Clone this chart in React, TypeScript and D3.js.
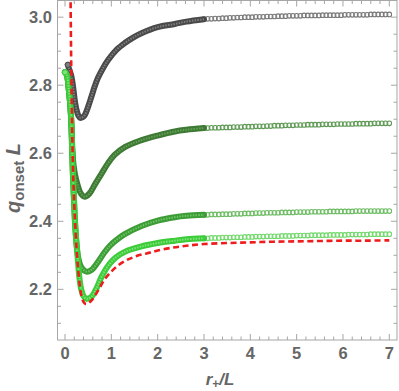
import React from "react";
import * as d3 from "d3";

const W = 399;
const H = 391;

// axis ticks
const xTicks = [0, 1, 2, 3, 4, 5, 6, 7];
const yTicks = [2.2, 2.4, 2.6, 2.8, 3.0];
const yTickLabels = ["2.2", "2.4", "2.6", "2.8", "3.0"];

// dense part (r < 3) of the four marker series
const s1R = [0.06, 0.1, 0.14, 0.18, 0.21, 0.25, 0.29, 0.33, 0.38, 0.43, 0.5, 0.57, 0.64, 0.71, 0.82, 0.93, 1.11, 1.29, 1.47, 1.65, 2.0, 2.37, 2.62, 3.0];
const s1V = [2.86, 2.843, 2.825, 2.79, 2.757, 2.727, 2.71, 2.704, 2.706, 2.713, 2.737, 2.766, 2.796, 2.821, 2.85, 2.874, 2.904, 2.924, 2.94, 2.953, 2.971, 2.98, 2.987, 2.994];

const s2R = [0.0, 0.04, 0.08, 0.115, 0.14, 0.16, 0.185, 0.22, 0.27, 0.34, 0.425, 0.53, 0.64, 0.78, 0.93, 1.07, 1.29, 1.6, 2.0, 2.37, 2.62, 3.0];
const s2V = [2.838, 2.83, 2.79, 2.74, 2.68, 2.61, 2.565, 2.535, 2.508, 2.482, 2.472, 2.482, 2.507, 2.538, 2.571, 2.595, 2.618, 2.636, 2.652, 2.664, 2.669, 2.674];

const s3R = [0.0, 0.04, 0.08, 0.115, 0.14, 0.155, 0.175, 0.195, 0.215, 0.245, 0.29, 0.35, 0.46, 0.57, 0.71, 0.85, 0.97, 1.1, 1.29, 1.65, 2.0, 2.37, 2.62, 3.0];
const s3V = [2.838, 2.83, 2.79, 2.74, 2.68, 2.6, 2.52, 2.46, 2.4, 2.34, 2.29, 2.265, 2.252, 2.257, 2.28, 2.308, 2.328, 2.344, 2.362, 2.386, 2.402, 2.412, 2.416, 2.419];

const s4R = [0.0, 0.04, 0.08, 0.115, 0.14, 0.155, 0.175, 0.195, 0.215, 0.245, 0.275, 0.31, 0.35, 0.4, 0.47, 0.57, 0.68, 0.8, 0.97, 1.1, 1.29, 1.65, 2.0, 2.37, 2.62, 3.0];
const s4V = [2.838, 2.83, 2.79, 2.74, 2.68, 2.6, 2.52, 2.46, 2.4, 2.34, 2.29, 2.235, 2.2, 2.18, 2.172, 2.178, 2.203, 2.24, 2.276, 2.294, 2.31, 2.326, 2.336, 2.343, 2.347, 2.35];

// sparse markers (3 <= r <= 7)
const rSparse = [
  3.0, 3.08, 3.16, 3.24, 3.32, 3.4, 3.48, 3.56, 3.64, 3.72,
  3.8, 3.88, 3.96, 4.04, 4.12, 4.2, 4.28, 4.36, 4.44, 4.52,
  4.6, 4.68, 4.76, 4.84, 4.92, 5.0, 5.08, 5.16, 5.24, 5.32,
  5.4, 5.48, 5.56, 5.64, 5.72, 5.8, 5.88, 5.96, 6.04, 6.12,
  6.2, 6.28, 6.36, 6.44, 6.52, 6.6, 6.68, 6.76, 6.84, 6.92,
  7.0,
];
const s1Sparse = [
  2.994, 2.995, 2.995, 2.996, 2.996, 2.997, 2.997, 2.998, 2.998, 2.999,
  2.999, 3.0, 3.0, 3.0, 3.001, 3.001, 3.001, 3.002, 3.002, 3.002,
  3.003, 3.003, 3.003, 3.004, 3.004, 3.004, 3.004, 3.005, 3.005, 3.005,
  3.005, 3.005, 3.006, 3.006, 3.006, 3.006, 3.006, 3.006, 3.007, 3.007,
  3.007, 3.007, 3.007, 3.007, 3.007, 3.008, 3.008, 3.008, 3.008, 3.008,
  3.008,
];
const s2Sparse = [
  2.674, 2.674, 2.675, 2.675, 2.675, 2.676, 2.676, 2.676, 2.677, 2.677,
  2.677, 2.678, 2.678, 2.678, 2.679, 2.679, 2.679, 2.68, 2.68, 2.681,
  2.681, 2.681, 2.682, 2.682, 2.682, 2.683, 2.683, 2.683, 2.684, 2.684,
  2.684, 2.684, 2.685, 2.685, 2.685, 2.685, 2.686, 2.686, 2.686, 2.686,
  2.686, 2.687, 2.687, 2.687, 2.687, 2.687, 2.688, 2.688, 2.688, 2.688,
  2.688,
];
const s3Sparse = [
  2.419, 2.419, 2.42, 2.42, 2.42, 2.421, 2.421, 2.421, 2.422, 2.422,
  2.422, 2.423, 2.423, 2.423, 2.424, 2.424, 2.424, 2.425, 2.425, 2.425,
  2.425, 2.426, 2.426, 2.426, 2.426, 2.427, 2.427, 2.427, 2.427, 2.428,
  2.428, 2.428, 2.428, 2.428, 2.429, 2.429, 2.429, 2.429, 2.429, 2.429,
  2.429, 2.43, 2.43, 2.43, 2.43, 2.43, 2.43, 2.43, 2.43, 2.43,
  2.43,
];
const s4Sparse = [
  2.35, 2.35, 2.351, 2.351, 2.351, 2.352, 2.352, 2.352, 2.353, 2.353,
  2.353, 2.354, 2.354, 2.354, 2.355, 2.355, 2.355, 2.356, 2.356, 2.356,
  2.356, 2.357, 2.357, 2.357, 2.357, 2.358, 2.358, 2.358, 2.358, 2.359,
  2.359, 2.359, 2.359, 2.359, 2.36, 2.36, 2.36, 2.36, 2.36, 2.361,
  2.361, 2.361, 2.361, 2.361, 2.361, 2.362, 2.362, 2.362, 2.362, 2.362,
  2.362,
];

// red dashed curve
const redR = [0.118, 0.125, 0.135, 0.145, 0.16, 0.18, 0.2, 0.22, 0.25, 0.28, 0.32, 0.36, 0.4, 0.45, 0.5, 0.57, 0.64, 0.75, 0.85, 0.97, 1.1, 1.29, 1.47, 1.65, 1.84, 2.0, 2.3, 2.62, 3.0, 3.5, 4.0, 4.5, 5.0, 5.5, 6.0, 6.5, 7.0];
const redV = [3.1, 2.98, 2.85, 2.75, 2.63, 2.52, 2.45, 2.39, 2.32, 2.265, 2.21, 2.178, 2.163, 2.157, 2.159, 2.167, 2.18, 2.205, 2.228, 2.248, 2.265, 2.283, 2.294, 2.302, 2.308, 2.314, 2.322, 2.328, 2.333, 2.336, 2.338, 2.34, 2.341, 2.342, 2.343, 2.343, 2.344];

const seriesStyle = [
  { R: s1R, V: s1V, sp: s1Sparse, outer: "#4a4a4a", inner: "#7e7e7e", ring: "#7a7a7a" },
  { R: s2R, V: s2V, sp: s2Sparse, outer: "#3f7a35", inner: "#62a056", ring: "#5f9a55" },
  { R: s3R, V: s3V, sp: s3Sparse, outer: "#3c9c36", inner: "#6cc462", ring: "#6cbc62" },
  { R: s4R, V: s4V, sp: s4Sparse, outer: "#3ccc3a", inner: "#7fe27a", ring: "#72d86c" },
];

export default function App() {
  const L = 57.5, R = 397, T = 0.5, B = 340;
  const x = d3.scaleLinear().domain([-0.162, 7.166]).range([L, R]);
  const y = d3.scaleLinear().domain([2.051, 3.049]).range([B, T]);

  const line = (rs: number[], vs: number[]) =>
    d3
      .line<number>()
      .x((_, i) => x(rs[i]))
      .y((_, i) => y(vs[i]))
      .curve(d3.curveCatmullRom.alpha(0.5))(rs) || "";

  const xMinor = d3.range(0, 7.001, 0.2).filter((v) => Math.abs(v - Math.round(v)) > 1e-6);
  const yMinor = d3.range(2.1, 3.001, 0.05).filter((v) => Math.abs(v * 5 - Math.round(v * 5)) > 1e-6);

  const frame = "#a6a6a6";
  const labelColor = "#666666";
  const font = "'Liberation Sans', Arial, sans-serif";

  return (
    <svg width={W} height={H} style={{ position: "absolute", left: 0, top: 0, background: "#fff" }}>
      <defs>
        <clipPath id="plotClip">
          <rect x={L} y={T} width={R - L} height={B - T} />
        </clipPath>
      </defs>

      {/* frame */}
      <rect x={L} y={T} width={R - L} height={B - T} fill="none" stroke={frame} strokeWidth={1} />

      {/* ticks */}
      {xTicks.map((t) => (
        <g key={"xt" + t}>
          <line x1={x(t)} x2={x(t)} y1={B} y2={B - 6} stroke={frame} />
          <line x1={x(t)} x2={x(t)} y1={T} y2={T + 6} stroke={frame} />
          <text x={x(t)} y={358.5} textAnchor="middle" fontFamily={font} fontWeight="bold" fontSize={16.5} fill={labelColor}>
            {t}
          </text>
        </g>
      ))}
      {xMinor.map((t, i) => (
        <g key={"xm" + i}>
          <line x1={x(t)} x2={x(t)} y1={B} y2={B - 3.5} stroke={frame} />
          <line x1={x(t)} x2={x(t)} y1={T} y2={T + 3.5} stroke={frame} />
        </g>
      ))}
      {yTicks.map((t, i) => (
        <g key={"yt" + t}>
          <line x1={L} x2={L + 6} y1={y(t)} y2={y(t)} stroke={frame} />
          <line x1={R} x2={R - 6} y1={y(t)} y2={y(t)} stroke={frame} />
          <text x={52} y={y(t) + 5.8} textAnchor="end" fontFamily={font} fontWeight="bold" fontSize={16.5} fill={labelColor}>
            {yTickLabels[i]}
          </text>
        </g>
      ))}
      {yMinor.map((t, i) => (
        <g key={"ym" + i}>
          <line x1={L} x2={L + 3.5} y1={y(t)} y2={y(t)} stroke={frame} />
          <line x1={R} x2={R - 3.5} y1={y(t)} y2={y(t)} stroke={frame} />
        </g>
      ))}

      <g clipPath="url(#plotClip)">
        {seriesStyle.map((s, k) => (
          <g key={"s" + k}>
            {s.sp.map((v, i) => (
              <circle key={i} cx={x(rSparse[i])} cy={y(v)} r={2.3} fill="#fff" fillOpacity={0.25} stroke={s.ring} strokeWidth={1.1} />
            ))}
            <path d={line(s.R, s.V)} fill="none" stroke={s.outer} strokeWidth={6} strokeLinecap="round" />
            <path d={line(s.R, s.V)} fill="none" stroke={s.inner} strokeWidth={2} strokeDasharray="1.5,1.2" strokeLinecap="butt" />
            <circle cx={x(s.R[0])} cy={y(s.V[0])} r={2.6} fill={s.inner} stroke={s.outer} strokeWidth={1} />
          </g>
        ))}
        <path d={line(redR, redV)} fill="none" stroke="#ee1c1c" strokeWidth={2.6} strokeDasharray="6,3.6" />
      </g>

      {/* axis labels */}
      <text x={220} y={385} textAnchor="middle" fontFamily={font} fontWeight="bold" fontSize={17} fill={labelColor}>
        <tspan fontStyle="italic">r</tspan>
        <tspan fontSize={12} dy={3}>+</tspan>
        <tspan dy={-3} fontStyle="italic">/L</tspan>
      </text>
      <text
        transform="translate(20,178) rotate(-90)"
        textAnchor="middle"
        fontFamily={font}
        fontWeight="bold"
        fontSize={20}
        fill={labelColor}
      >
        <tspan fontStyle="italic">q</tspan>
        <tspan fontSize={15} dy={4}>onset</tspan>
        <tspan dy={-4} fontStyle="italic"> L</tspan>
      </text>
    </svg>
  );
}
